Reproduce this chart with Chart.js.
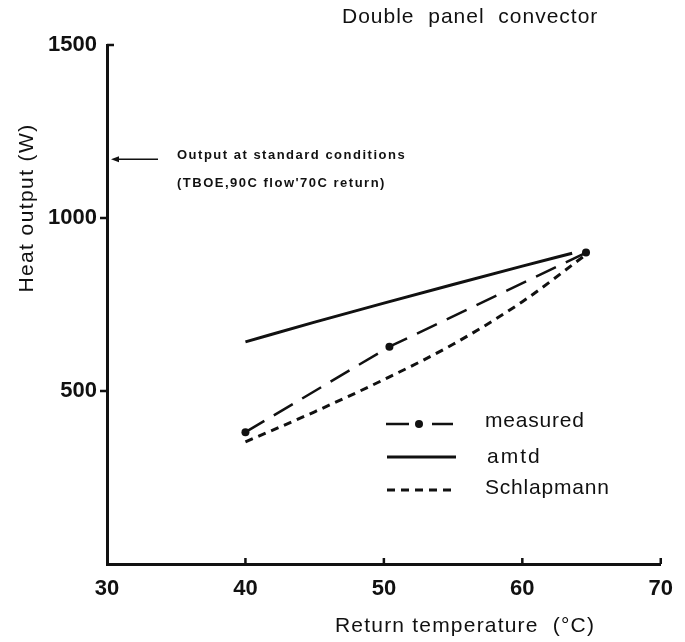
<!DOCTYPE html>
<html><head><meta charset="utf-8">
<script src="https://cdn.jsdelivr.net/npm/chart.js@4.4.1/dist/chart.umd.min.js"></script>
<style>html,body{margin:0;padding:0;background:#fff;} #wrap{width:685px;height:642px;position:relative;}</style>
</head><body><div id="wrap"><canvas id="c" width="685" height="642"></canvas></div>
<script>
const xTicks = [30, 40, 50, 60, 70];
const yTicks = [500, 1000, 1500];
const measuredX = [40, 50.4, 64.6];
const measuredY = [381, 628, 900];
const amtdX = [40, 45, 50, 55, 60, 63.6];
const amtdY = [642, 699, 754, 808, 861, 898];
const schlapX = [40, 45, 50, 55, 60, 64.4];
const schlapY = [353, 440, 533, 635, 758, 888];
const seriesNames = ['measured', 'amtd', 'Schlapmann'];
const titleText = 'Double  panel  convector';
const xTitle = 'Return temperature  (°C)';
const yTitle = 'Heat output (W)';
const noteLines = ['Output at standard conditions', "(TBOE,90C flow'70C return)"];
const noteValue = 1170;

const FONT = '"Liberation Sans", Arial, Helvetica, sans-serif';
const INK = '#111';
const pts = (xs, ys) => xs.map((x, i) => ({x: x, y: ys[i]}));

const decor = {
  id: 'decor',
  afterDraw(chart) {
    const ctx = chart.ctx;
    const xs = chart.scales.x, ys = chart.scales.y;
    const ca = chart.chartArea;
    ctx.save();
    ctx.strokeStyle = INK; ctx.fillStyle = INK;
    // tick marks
    ctx.lineWidth = 2.5;
    ctx.beginPath();
    yTicks.forEach(v => {
      const py = ys.getPixelForValue(v);
      if (v === ys.max) { ctx.moveTo(ca.left, py); ctx.lineTo(ca.left + 7, py); }
      else { ctx.moveTo(ca.left - 7, py); ctx.lineTo(ca.left, py); }
    });
    xTicks.forEach(v => {
      if (v === xs.min) return;
      const px = xs.getPixelForValue(v);
      ctx.moveTo(px, ca.bottom); ctx.lineTo(px, ca.bottom - 6);
    });
    ctx.stroke();
    // titles
    ctx.textBaseline = 'middle';
    ctx.textAlign = 'left';
    ctx.font = '21px ' + FONT;
    ctx.letterSpacing = '1px';
    ctx.fillText(titleText, 342, 17);
    ctx.letterSpacing = '1.2px';
    ctx.fillText(xTitle, 335, 626);
    ctx.save();
    ctx.translate(27, 208);
    ctx.rotate(-Math.PI / 2);
    ctx.textAlign = 'center';
    ctx.letterSpacing = '1.4px';
    ctx.fillText(yTitle, 0, 0);
    ctx.restore();
    // annotation
    const ay = ys.getPixelForValue(noteValue);
    ctx.lineWidth = 1.5;
    ctx.beginPath(); ctx.moveTo(158, ay); ctx.lineTo(116, ay); ctx.stroke();
    ctx.beginPath(); ctx.moveTo(111, ay); ctx.lineTo(119, ay - 3); ctx.lineTo(119, ay + 3); ctx.closePath(); ctx.fill();
    ctx.font = 'bold 13px ' + FONT;
    ctx.letterSpacing = '1.5px';
    ctx.fillText(noteLines[0], 177, ay - 4);
    ctx.fillText(noteLines[1], 177, ay + 24);
    // legend
    const rows = [424, 457, 490];
    ctx.font = '21px ' + FONT;
    ctx.letterSpacing = '0.8px';
    ctx.lineWidth = 2.5;
    ctx.setLineDash([]);
    ctx.beginPath(); ctx.moveTo(386, rows[0]); ctx.lineTo(409, rows[0]); ctx.moveTo(432, rows[0]); ctx.lineTo(453, rows[0]); ctx.stroke();
    ctx.beginPath(); ctx.arc(419, rows[0], 4, 0, Math.PI * 2); ctx.fill();
    ctx.lineWidth = 3;
    ctx.beginPath(); ctx.moveTo(387, rows[1]); ctx.lineTo(456, rows[1]); ctx.stroke();
    ctx.setLineDash([8, 6]);
    ctx.beginPath(); ctx.moveTo(387, rows[2]); ctx.lineTo(456, rows[2]); ctx.stroke();
    ctx.setLineDash([]);
    ctx.fillText(seriesNames[0], 485, rows[0] - 3);
    ctx.letterSpacing = '2px';
    ctx.fillText(seriesNames[1], 487, rows[1]);
    ctx.letterSpacing = '0.8px';
    ctx.fillText(seriesNames[2], 485, rows[2] - 2);
    ctx.restore();
  }
};

const tickFont = {family: FONT, size: 22, weight: 'bold'};

new Chart(document.getElementById('c'), {
  type: 'scatter',
  data: {
    datasets: [
      {label: seriesNames[0], data: pts(measuredX, measuredY), showLine: true, borderColor: INK, borderWidth: 2.5,
       borderDash: [22, 11], pointRadius: 4, pointBackgroundColor: INK, pointBorderWidth: 0, tension: 0},
      {label: seriesNames[1], data: pts(amtdX, amtdY), showLine: true, borderColor: INK, borderWidth: 3,
       pointRadius: 0, cubicInterpolationMode: 'monotone'},
      {label: seriesNames[2], data: pts(schlapX, schlapY), showLine: true, borderColor: INK, borderWidth: 3,
       borderDash: [8, 6], pointRadius: 0, cubicInterpolationMode: 'monotone'}
    ]
  },
  options: {
    responsive: false,
    animation: false,
    devicePixelRatio: 1,
    layout: {padding: {top: 45, right: 23, left: 0, bottom: 0}},
    plugins: {legend: {display: false}, tooltip: {enabled: false}},
    scales: {
      x: {
        type: 'linear', min: 30, max: 70,
        afterBuildTicks: s => { s.ticks = xTicks.map(v => ({value: v})); },
        afterFit: s => { s.height = 78; },
        ticks: {font: tickFont, color: INK, padding: 12, maxRotation: 0, autoSkip: false, callback: v => String(v)},
        grid: {display: true, drawOnChartArea: false, drawTicks: false},
        border: {display: true, width: 3, color: INK}
      },
      y: {
        type: 'linear', min: 0, max: 1500,
        afterBuildTicks: s => { s.ticks = yTicks.map(v => ({value: v})); },
        afterFit: s => { s.width = 107; },
        ticks: {font: tickFont, color: INK, padding: 10, autoSkip: false, callback: v => String(v)},
        grid: {display: true, drawOnChartArea: false, drawTicks: false},
        border: {display: true, width: 3, color: INK}
      }
    }
  },
  plugins: [decor]
});
</script>
</body></html>
